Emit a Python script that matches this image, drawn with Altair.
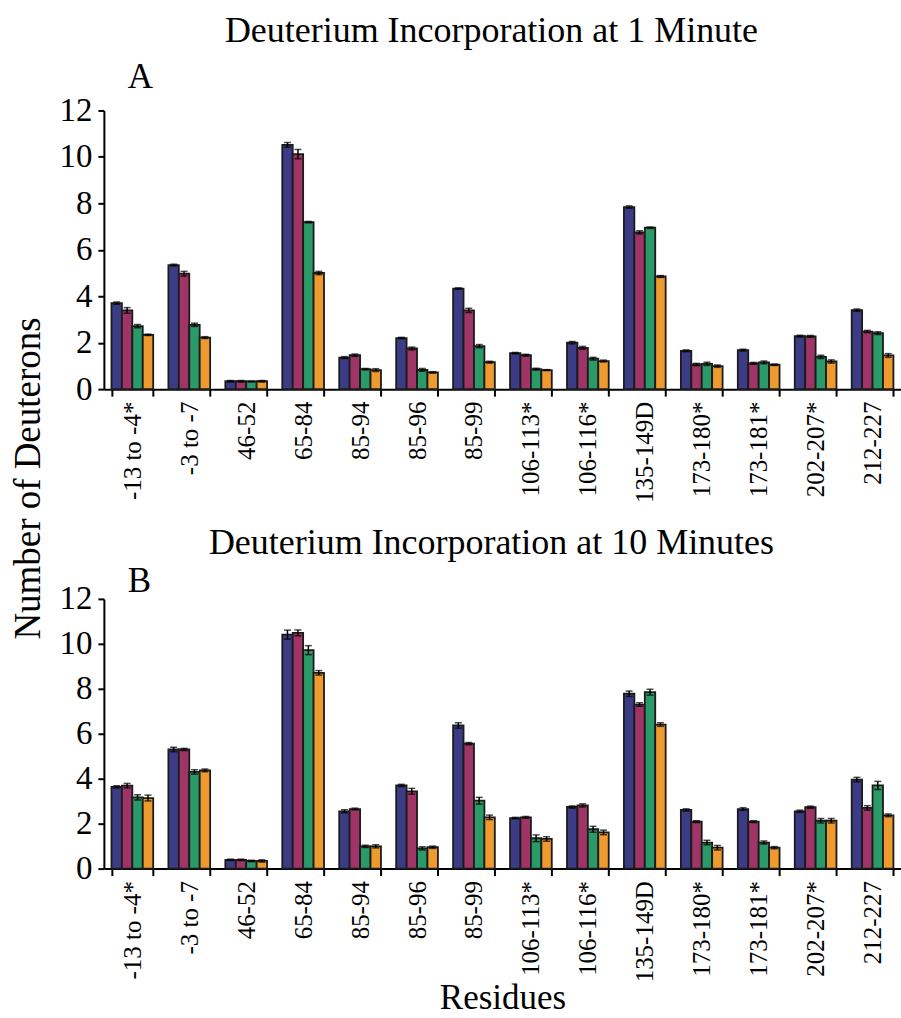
import altair as alt
import pandas as pd

# Peptide segments (residue ranges) along the x axis
residues = ["-13 to -4*", "-3 to -7", "46-52", "65-84", "85-94", "85-96", "85-99",
            "106-113*", "106-116*", "135-149D", "173-180*", "173-181*", "202-207*", "212-227"]
states = ["s1", "s2", "s3", "s4"]
colors = ["#3C3C86", "#9E3566", "#2A9A68", "#EE9A2E"]

# Deuterons incorporated after 1 minute, one list per state
a_s1 = [3.70, 5.34, 0.34, 10.52, 1.36, 2.20, 4.33, 1.55, 2.00, 7.84, 1.65, 1.68, 2.28, 3.40]
a_s2 = [3.39, 4.97, 0.34, 10.12, 1.46, 1.75, 3.39, 1.46, 1.78, 6.75, 1.06, 1.11, 2.27, 2.48]
a_s3 = [2.71, 2.77, 0.33, 7.19, 0.86, 0.83, 1.85, 0.86, 1.31, 6.95, 1.09, 1.15, 1.39, 2.41]
a_s4 = [2.34, 2.22, 0.34, 5.00, 0.82, 0.72, 1.16, 0.82, 1.21, 4.85, 0.99, 1.05, 1.19, 1.45]
a_e1 = [0.05, 0.04, 0.03, 0.10, 0.04, 0.03, 0.03, 0.03, 0.05, 0.05, 0.04, 0.04, 0.04, 0.05]
a_e2 = [0.12, 0.10, 0.03, 0.20, 0.05, 0.06, 0.09, 0.04, 0.06, 0.07, 0.05, 0.04, 0.04, 0.05]
a_e3 = [0.07, 0.07, 0.02, 0.03, 0.03, 0.06, 0.07, 0.04, 0.06, 0.03, 0.07, 0.06, 0.07, 0.06]
a_e4 = [0.03, 0.04, 0.03, 0.07, 0.06, 0.03, 0.04, 0.02, 0.04, 0.04, 0.05, 0.03, 0.07, 0.08]

# Deuterons incorporated after 10 minutes
b_s1 = [3.64, 5.30, 0.39, 10.41, 2.55, 3.70, 6.37, 2.25, 2.74, 7.78, 2.61, 2.65, 2.55, 3.96]
b_s2 = [3.69, 5.30, 0.39, 10.49, 2.65, 3.44, 5.56, 2.28, 2.81, 7.30, 2.09, 2.09, 2.73, 2.70]
b_s3 = [3.17, 4.30, 0.34, 9.72, 0.99, 0.90, 3.02, 1.35, 1.75, 7.85, 1.16, 1.16, 2.13, 3.70]
b_s4 = [3.14, 4.37, 0.34, 8.71, 0.99, 0.95, 2.28, 1.32, 1.61, 6.41, 0.93, 0.93, 2.13, 2.37]
b_e1 = [0.05, 0.10, 0.03, 0.20, 0.07, 0.05, 0.12, 0.03, 0.05, 0.12, 0.05, 0.06, 0.05, 0.10]
b_e2 = [0.10, 0.05, 0.03, 0.13, 0.04, 0.13, 0.05, 0.04, 0.07, 0.08, 0.04, 0.04, 0.05, 0.10]
b_e3 = [0.12, 0.10, 0.03, 0.20, 0.05, 0.07, 0.15, 0.15, 0.13, 0.13, 0.10, 0.07, 0.10, 0.18]
b_e4 = [0.13, 0.06, 0.05, 0.10, 0.07, 0.05, 0.10, 0.10, 0.10, 0.08, 0.10, 0.05, 0.10, 0.06]

FONT = "Liberation Serif"


def long_table(series, errors):
    rows = []
    for state, vals, errs in zip(states, series, errors):
        for res, v, e in zip(residues, vals, errs):
            rows.append({"residue": res, "state": state, "value": v,
                         "lo": v - e, "hi": v + e})
    return pd.DataFrame(rows)


def panel(df, title, title_offset, letter, letter_y, height, show_x_title, y_title):
    x_axis = alt.Axis(
        title="Residues" if show_x_title else None,
        labelAngle=-90, labelFont=FONT, labelFontSize=25, labelColor="black",
        labelPadding=5, tickBand="extent", tickSize=7, tickWidth=2,
        tickColor="black", domainColor="black", domainWidth=2,
        titleFont=FONT, titleFontSize=35, titleFontWeight="normal",
        titleColor="black", titleBaseline="alphabetic", titleY=140,
    )
    y_axis_kwargs = dict(
        values=[0, 2, 4, 6, 8, 10, 12], labelFont=FONT, labelFontSize=33,
        labelColor="black", labelPadding=6, tickSize=6, tickWidth=2,
        tickColor="black", domainColor="black", domainWidth=2, grid=False,
    )
    if y_title:
        y_axis = alt.Axis(
            title="Number of Deuterons", titleFont=FONT, titleFontSize=37,
            titleFontWeight="normal", titleColor="black", titleAngle=270,
            titleBaseline="alphabetic", titleX=-64, titleY=368, **y_axis_kwargs)
    else:
        y_axis = alt.Axis(title=None, **y_axis_kwargs)

    base = alt.Chart(df).encode(
        x=alt.X("residue:N", sort=residues, axis=x_axis,
                scale=alt.Scale(paddingInner=0.267, paddingOuter=0.133)),
        xOffset=alt.XOffset("state:N", sort=states,
                            scale=alt.Scale(paddingInner=0, paddingOuter=0)),
    )
    bars = base.mark_bar(stroke="#1b1b1b", strokeWidth=1.8).encode(
        y=alt.Y("value:Q", scale=alt.Scale(domain=[0, 12]), axis=y_axis),
        color=alt.Color("state:N", scale=alt.Scale(domain=states, range=colors),
                        legend=None),
    )
    whisker = base.mark_rule(color="black", strokeWidth=1.5).encode(
        y="lo:Q", y2="hi:Q")
    cap_lo = base.mark_tick(color="black", thickness=1.5, size=7).encode(y="lo:Q")
    cap_hi = base.mark_tick(color="black", thickness=1.5, size=7).encode(y="hi:Q")
    tag = alt.Chart(pd.DataFrame({"t": [letter]})).mark_text(
        font=FONT, fontSize=35, align="left", baseline="alphabetic", color="black"
    ).encode(x=alt.value(24), y=alt.value(letter_y), text="t:N")

    return alt.layer(bars, whisker, cap_lo, cap_hi, tag).properties(
        width=798, height=height,
        title=alt.TitleParams(title, font=FONT, fontSize=36, fontWeight="normal",
                              color="black", anchor="middle", frame="group",
                              dx=-11, offset=title_offset),
    )


top = panel(long_table([a_s1, a_s2, a_s3, a_s4], [a_e1, a_e2, a_e3, a_e4]),
            "Deuterium Incorporation at 1 Minute", 11, "A", -22, 279, False, True)
bottom = panel(long_table([b_s1, b_s2, b_s3, b_s4], [b_e1, b_e2, b_e3, b_e4]),
               "Deuterium Incorporation at 10 Minutes", 2, "B", -7, 270, True, False)

chart = alt.vconcat(top, bottom, spacing=210, bounds="flush").properties(
    padding={"left": 10, "top": 12, "right": 0, "bottom": 0},
    background="white",
).configure_view(stroke=None)

chart.save("out.html", embed_options={"renderer": "svg", "actions": False})
